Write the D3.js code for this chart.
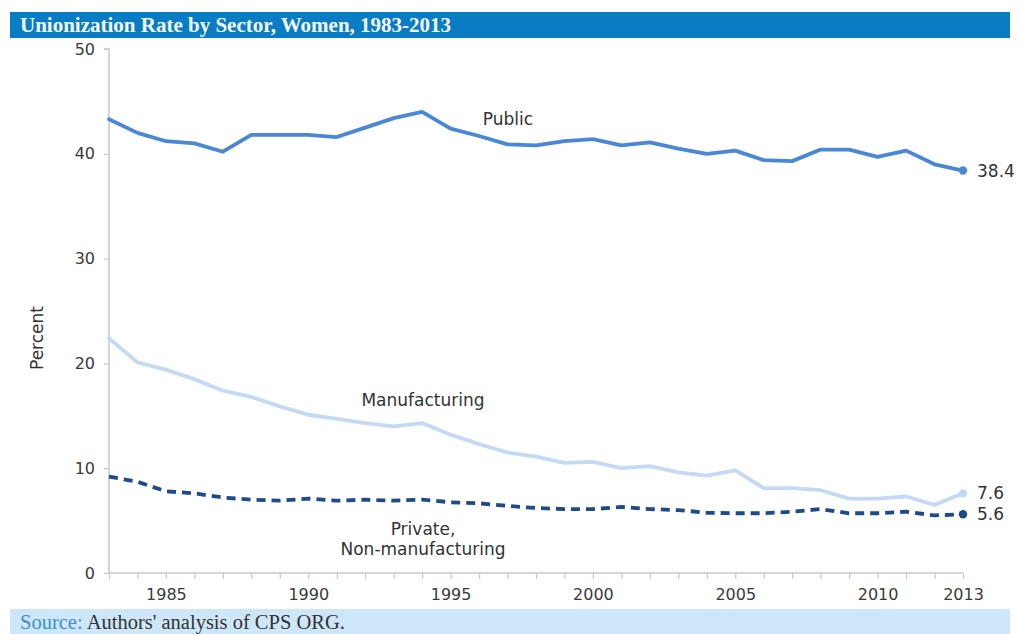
<!DOCTYPE html>
<html>
<head>
<meta charset="utf-8">
<script src="https://cdn.jsdelivr.net/npm/d3@7"></script>
<style>
  html, body { margin: 0; padding: 0; background: #fff; }
  svg { display: block; }
</style>
</head>
<body>
<svg id="chart" width="1020" height="634"></svg>
<script>
// Years on the x axis
const years = d3.range(1983, 2014);

// Union membership rates for women, percent
const publicRate = [43.3, 42.0, 41.2, 41.0, 40.2, 41.8, 41.8, 41.8, 41.6, 42.5,
  43.4, 44.0, 42.4, 41.7, 40.9, 40.8, 41.2, 41.4, 40.8, 41.1,
  40.5, 40.0, 40.3, 39.4, 39.3, 40.4, 40.4, 39.7, 40.3, 39.0, 38.4];
const manufacturingRate = [22.4, 20.1, 19.4, 18.5, 17.4, 16.8, 15.9, 15.1, 14.7, 14.3,
  14.0, 14.3, 13.2, 12.3, 11.5, 11.1, 10.5, 10.6, 10.0, 10.2,
  9.6, 9.3, 9.8, 8.1, 8.1, 7.9, 7.1, 7.1, 7.3, 6.5, 7.6];
const privateNonMfgRate = [9.2, 8.7, 7.8, 7.6, 7.2, 7.0, 6.9, 7.1, 6.9, 7.0,
  6.9, 7.0, 6.75, 6.65, 6.4, 6.2, 6.1, 6.1, 6.3, 6.1,
  6.0, 5.75, 5.7, 5.7, 5.85, 6.1, 5.7, 5.7, 5.85, 5.5, 5.6];

const yTicks = [0, 10, 20, 30, 40, 50];
const xLabelYears = [1985, 1990, 1995, 2000, 2005, 2010, 2013];

const svg = d3.select("#chart");
const sans = "'DejaVu Sans', Verdana, sans-serif";
const serif = "'Liberation Serif', 'Times New Roman', serif";

// Title banner
svg.append("rect").attr("x", 10).attr("y", 12).attr("width", 1000).attr("height", 26)
  .attr("fill", "#0a7cc4");
svg.append("text").attr("x", 20).attr("y", 32)
  .attr("font-family", serif).attr("font-size", 21).attr("font-weight", "bold")
  .attr("fill", "#f4f8fc")
  .text("Unionization Rate by Sector, Women, 1983-2013");

// Source banner
svg.append("rect").attr("x", 10).attr("y", 609).attr("width", 1000).attr("height", 25)
  .attr("fill", "#cde6f8");
const src = svg.append("text").attr("x", 20).attr("y", 629)
  .attr("font-family", serif).attr("font-size", 20.5);
src.append("tspan").attr("fill", "#3d8fd1").text("Source: ");
src.append("tspan").attr("fill", "#333").text("Authors' analysis of CPS ORG.");

// Scales
const x = d3.scaleLinear().domain([1983, 2013]).range([109, 963]);
const y = d3.scaleLinear().domain([0, 50]).range([573, 49]);

// Y axis
const yAxis = svg.append("g").attr("transform", "translate(109,0)")
  .call(d3.axisLeft(y).tickValues(yTicks).tickSize(5).tickPadding(9).tickFormat(d3.format("d")));
yAxis.select(".domain").attr("stroke", "#c8c8c8").attr("stroke-width", 1.5)
  .attr("d", `M-5,${y(50)}H0V${y(0)}`);
yAxis.selectAll(".tick line").attr("stroke", "#c8c8c8").attr("stroke-width", 1.2);
yAxis.selectAll(".tick text").attr("font-family", sans).attr("font-size", 16)
  .attr("fill", "#3a3a3a");

// X axis with a tick every year
const xAxis = svg.append("g").attr("transform", `translate(0,${y(0)})`)
  .call(d3.axisBottom(x).tickValues(years).tickSize(6).tickPadding(10)
    .tickFormat(d => xLabelYears.includes(d) ? String(d) : ""));
xAxis.select(".domain").attr("stroke", "#c8c8c8").attr("stroke-width", 1.5)
  .attr("d", `M${x(1983)},0H${x(2013)}`);
xAxis.selectAll(".tick line").attr("stroke", "#c8c8c8").attr("stroke-width", 1.2);
xAxis.selectAll(".tick text").attr("font-family", sans).attr("font-size", 16)
  .attr("fill", "#3a3a3a");

// Y axis title
svg.append("text").attr("transform", "translate(43,338) rotate(-90)")
  .attr("text-anchor", "middle").attr("font-family", sans).attr("font-size", 17)
  .attr("fill", "#333").text("Percent");

// Series lines
const line = d3.line().x((d, i) => x(years[i])).y(d => y(d));
const series = [
  { name: "public", values: publicRate, color: "#4a87d6", dash: null },
  { name: "manufacturing", values: manufacturingRate, color: "#c4daf4", dash: null },
  { name: "private", values: privateNonMfgRate, color: "#1e4b87", dash: "9,6" }
];
series.forEach(s => {
  svg.append("path").datum(s.values)
    .attr("d", line).attr("fill", "none")
    .attr("stroke", s.color).attr("stroke-width", 3.8)
    .attr("stroke-linejoin", "round").attr("stroke-linecap", s.dash ? "butt" : "round")
    .attr("stroke-dasharray", s.dash);
  const last = s.values[s.values.length - 1];
  svg.append("circle").attr("cx", x(2013)).attr("cy", y(last)).attr("r", 4.2)
    .attr("fill", s.color);
  svg.append("text").attr("x", x(2013) + 14).attr("y", y(last) + 6)
    .attr("font-family", sans).attr("font-size", 17).attr("fill", "#333")
    .text(d3.format(".1f")(last));
});

// Series name labels
const labelStyle = sel => sel.attr("font-family", sans).attr("font-size", 17)
  .attr("fill", "#333").attr("text-anchor", "middle");
svg.append("text").attr("x", 508).attr("y", 125).call(labelStyle).text("Public");
svg.append("text").attr("x", 423).attr("y", 406).call(labelStyle).text("Manufacturing");
svg.append("text").attr("x", 423).attr("y", 535).call(labelStyle).text("Private,");
svg.append("text").attr("x", 423).attr("y", 555).call(labelStyle).text("Non-manufacturing");
</script>
</body>
</html>
